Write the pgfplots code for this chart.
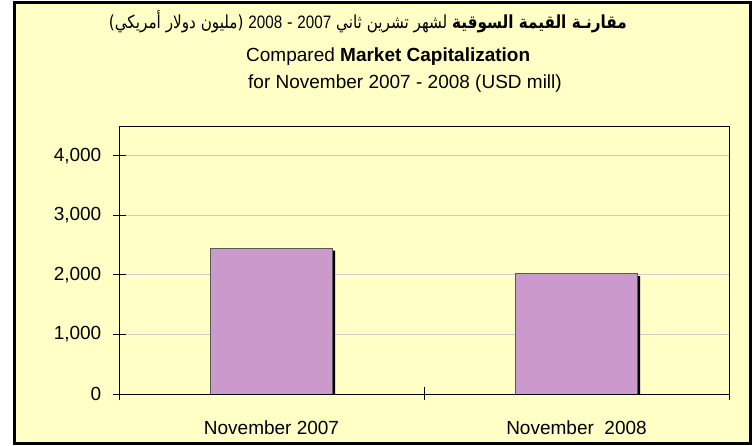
\documentclass[border=0pt]{standalone}
\usepackage{fontspec}
\setmainfont{Liberation Sans}
\newfontfamily\arabicfont[Script=Arabic]{DejaVu Sans}
\TeXXeTstate=1
\usepackage{graphicx}
\usepackage{pgfplots}
\pgfplotsset{compat=1.18}
\definecolor{bgyellow}{HTML}{FFFFC6}
\definecolor{barpurple}{HTML}{CC99CC}
\definecolor{gridgray}{HTML}{CCCCCC}
\begin{document}
\begin{tikzpicture}
\path[use as bounding box] (0,0) rectangle (754pt,446pt);
\draw[black, line width=2.2pt, fill=bgyellow] (14.5pt,2.5pt) rectangle (750.5pt,443.5pt);
\node[anchor=base east, inner sep=0pt, font=\fontsize{18}{22}\selectfont] at (627pt,417pt)
  {\scalebox{0.846}[1]{\arabicfont\beginR\textbf{مقارنـة القيمة السوقية} لشهر تشرين ثاني {\normalfont\beginL 2007\endL} - {\normalfont\beginL 2008\endL} (مليون دولار أمريكي)\endR}};
\node[anchor=base west, inner sep=0pt, font=\fontsize{19}{23}\selectfont] at (246pt,384pt)
  {Compared \textbf{Market Capitalization}};
\node[anchor=base west, inner sep=0pt, font=\fontsize{19}{23}\selectfont] at (248pt,357pt)
  {for November 2007 - 2008 (USD mill)};
\begin{axis}[
  at={(119pt,52pt)}, anchor=south west,
  scale only axis, width=610pt, height=268pt,
  xmin=-0.5, xmax=1.5, ymin=0, ymax=4500,
  ytick={0,1000,2000,3000,4000},
  xtick={-0.5,0.5,1.5}, xticklabels={},
  extra x ticks={0,1},
  extra x tick labels={November 2007,November\ \ 2008},
  extra x tick style={major tick length=0pt, grid=none},
  tick align=center, major tick length=13pt,
  xtick pos=bottom, ytick pos=left,
  ymajorgrids, grid style={draw=gridgray, line width=0.9pt},
  axis line style={black, line width=0.8pt},
  tick style={black, line width=0.8pt},
  ticklabel style={font=\fontsize{19}{23}\selectfont},
  yticklabel style={inner sep=0pt, xshift=-11pt},
  xticklabel style={inner sep=0pt, anchor=base, yshift=-41pt},
  /pgf/number format/1000 sep={,},
  /pgf/number format/assume math mode=true,
]
\addplot[ybar, bar width=0.4, bar shift=0pt, fill=black, draw=none, xshift=2.5pt, yshift=-2.5pt]
  coordinates {(0,2450) (1,2020)};
\addplot[ybar, bar width=0.4, bar shift=0pt, fill=barpurple, draw=black!65, line width=0.8pt]
  coordinates {(0,2450) (1,2020)};
\end{axis}
\end{tikzpicture}
\end{document}
